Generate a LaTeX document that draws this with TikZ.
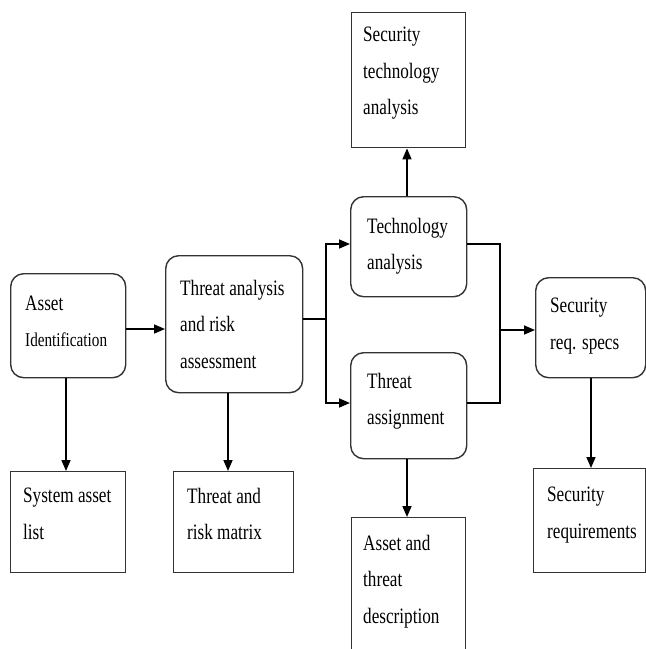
\documentclass[tikz,border=0pt]{standalone}
\usepackage{fontspec}
\setmainfont{Liberation Serif}[FakeStretch=0.78]
\usetikzlibrary{arrows.meta,calc}
\tikzset{
  rbox/.style={draw=black!80, line width=1.4pt, rounded corners=13pt, inner sep=0pt, anchor=north west},
  sbox/.style={draw=black!80, line width=1.4pt, inner sep=0pt, anchor=north west},
  txt/.style={inner sep=0pt, anchor=north west, align=left, font=\fontsize{22}{36.5}\selectfont},
  conn/.style={line width=1.6pt, -{Triangle[length=11pt,width=9pt]}},
  plain/.style={line width=1.6pt}
}
\begin{document}
\begin{tikzpicture}[x=1pt,y=-1pt]
\useasboundingbox (0,0) rectangle (646,649);
\clip (0,0) rectangle (646,649);
% boxes
\node[rbox, minimum width=115pt, minimum height=104pt] (asset) at (10,273) {};
\node[rbox, minimum width=137pt, minimum height=137pt] (threat) at (165,255) {};
\node[sbox, minimum width=114pt, minimum height=135pt] (sta) at (351,12) {};
\node[rbox, minimum width=116pt, minimum height=100pt] (tech) at (350,196) {};
\node[rbox, minimum width=116pt, minimum height=106pt] (assign) at (350,352) {};
\node[rbox, minimum width=110pt, minimum height=100pt] (spec) at (535,277) {};
\node[sbox, minimum width=115pt, minimum height=101pt] (sal) at (10,471) {};
\node[sbox, minimum width=120pt, minimum height=101pt] (trm) at (173,471) {};
\node[sbox, minimum width=114pt, minimum height=160pt] (atd) at (351,517) {};
\node[sbox, minimum width=112pt, minimum height=104pt] (sreq) at (533,468) {};
% texts
\node[txt] (tasset) at ($(asset.north west)+(15,23)$) {Asset\\[-1pt]{\fontsize{19.5}{36}\selectfont Identification}};
\node[txt] (tthreat) at ($(threat.north west)+(15,25)$) {Threat analysis\\and risk\\assessment};
\node[txt] (tsta) at ($(sta.north west)+(12,15)$) {Security\\technology\\analysis};
\node[txt] (ttech) at ($(tech.north west)+(17,22)$) {Technology\\analysis};
\node[txt] (tassign) at ($(assign.north west)+(17,21)$) {Threat\\assignment};
\node[txt] (tspec) at ($(spec.north west)+(15,21)$) {Security\\req. specs};
\node[txt] (tsal) at ($(sal.north west)+(13,17)$) {System asset\\list};
\node[txt] (ttrm) at ($(trm.north west)+(14,17)$) {Threat and\\risk matrix};
\node[txt] (tatd) at ($(atd.north west)+(12,18)$) {Asset and\\threat\\description};
\node[txt] (tsreq) at ($(sreq.north west)+(14,19)$) {Security\\requirements};
% junction coordinates
\coordinate (j1) at (326,319);
\coordinate (j2) at (500,330);
% connectors
\draw[conn] (asset.east |- 0,329) -- (threat.west |- 0,329);
\draw[conn] (asset.south -| 66,0) -- (sal.north -| 66,0);
\draw[conn] (threat.south -| 228,0) -- (trm.north -| 228,0);
\draw[plain] (threat.east |- j1) -- (j1);
\draw[conn] (j1) |- (tech.west |- 0,244);
\draw[conn] (j1) |- (assign.west |- 0,403);
\draw[conn] (tech.north -| 407,0) -- (sta.south -| 407,0);
\draw[plain] (tech.east |- 0,244) -| (j2);
\draw[plain] (assign.east |- 0,403) -| (j2);
\draw[conn] (j2) -- (spec.west |- j2);
\draw[conn] (assign.south -| 407,0) -- (atd.north -| 407,0);
\draw[conn] (spec.south -| 591,0) -- (sreq.north -| 591,0);
\end{tikzpicture}
\end{document}
